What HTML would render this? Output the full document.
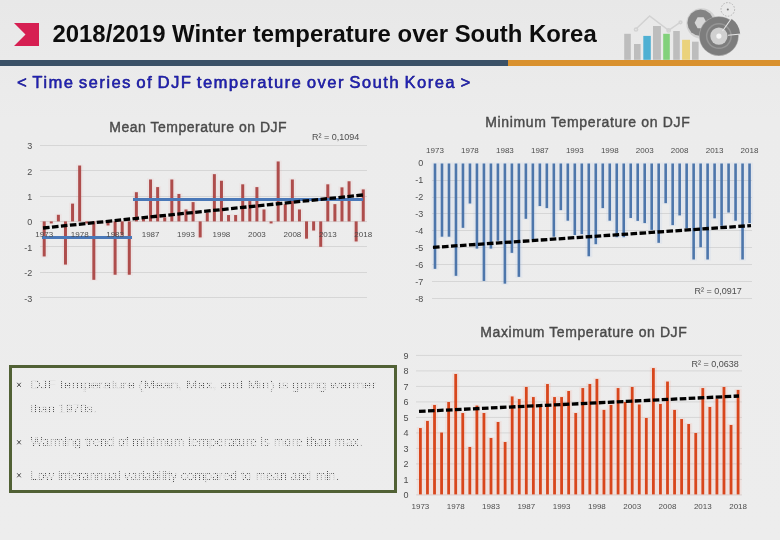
<!DOCTYPE html>
<html><head><meta charset="utf-8">
<style>
html,body{margin:0;padding:0;}
body{width:780px;height:540px;overflow:hidden;position:relative;background:#ececec;font-family:"Liberation Sans",sans-serif;}
.bg{position:absolute;left:0;top:0;width:780px;height:540px;background:linear-gradient(180deg,#e8e8e8 0px,#eaeaea 60px,#ececec 120px,#ededed 540px);}
.title{position:absolute;left:52.5px;top:19px;font-size:23.9px;font-weight:bold;color:#0d0d0d;white-space:nowrap;line-height:30px;}
.sub{position:absolute;left:17px;top:72px;font-size:16.5px;letter-spacing:1.5px;word-spacing:-1.6px;color:#2222bc;white-space:nowrap;line-height:20px;-webkit-text-stroke:0.4px #1c1c90;text-shadow:0.4px 0.4px 0 rgba(10,10,60,0.6);}
.bar1{position:absolute;left:0;top:60px;width:508px;height:6px;background:#3b5167;}
.bar2{position:absolute;left:508px;top:60px;width:272px;height:6px;background:#d9912e;}
.box{position:absolute;left:9px;top:365px;width:382px;height:122px;border:3px solid #516135;}
.bl{position:absolute;font-size:13.5px;color:#c4c4c4;white-space:nowrap;letter-spacing:0.2px;}
.bu{position:absolute;font-size:9px;color:#555;}
svg{position:absolute;left:0;top:0;}
</style></head><body>
<div class="bg"></div>
<svg width="780" height="540" viewBox="0 0 780 540" style="font-family:'Liberation Sans',sans-serif;will-change:transform">
<polygon points="14,23 39,23 39,46 14,46 25.5,34.5" fill="#d61f52"/>

<g>
 <g fill="none" stroke="#d2d2d2" stroke-width="1.5">
  <polyline points="636,29 649.6,16 668.6,30.4 680.2,22.3"/>
  <circle cx="636" cy="29.5" r="1.6"/>
  <circle cx="668.6" cy="30.4" r="1.6"/>
  <circle cx="680.5" cy="22.3" r="1.4"/>
 </g>
 <rect x="624.2" y="33.8" width="6.6" height="26" fill="#bdbdbd"/>
 <rect x="634" y="44" width="6.6" height="15.8" fill="#bdbdbd"/>
 <rect x="643.3" y="35.9" width="7.5" height="23.9" fill="#4fb0d3"/>
 <rect x="653" y="26" width="7.9" height="33.8" fill="#bdbdbd"/>
 <rect x="663.2" y="33.8" width="6.6" height="26" fill="#82d17b"/>
 <rect x="673.2" y="31" width="6.6" height="28.8" fill="#bdbdbd"/>
 <rect x="682.1" y="39.8" width="7.9" height="20" fill="#ead27c"/>
 <rect x="692" y="41.7" width="6.6" height="18.1" fill="#bdbdbd"/>
 <circle cx="701.5" cy="23.5" r="15.2" fill="#d2d2d2"/>
 <path d="M700.6,9.6 L705.6,10.6 L710,13.4 L712.8,17.8 L713.8,22.8 L712.8,27.8 L710,32.2 L705.6,35 L700.6,36 L695.6,35 L691.2,32.2 L688.4,27.8 L687.4,22.8 L688.4,17.8 L691.2,13.4 L695.6,10.6 Z" fill="#838383"/>
 <polygon points="697.6,17.3 703.6,17.3 706.6,22.8 703.6,28.3 697.6,28.3 694.6,22.8" fill="#d6d6d6"/>
 <circle cx="718.9" cy="36.1" r="19.8" fill="#a9a9a9"/>
 <circle cx="718.9" cy="36.1" r="19.2" fill="#7d7d7d"/>
 <path d="M731.2,18.5 A21.5,21.5 0 0 1 740.3,34.2 L728,35.2 A9.2,9.2 0 0 0 724.2,28.6 Z" fill="#7d7d7d"/>
 <circle cx="718.9" cy="36.1" r="13" fill="#969696"/>
 <circle cx="718.9" cy="36.1" r="11.5" fill="#7d7d7d"/>
 <circle cx="718.9" cy="36.1" r="8.6" fill="#d0d0d0"/>
 <circle cx="718.9" cy="36.1" r="2.6" fill="#f6f6f6"/>
 <g stroke="#e8e8e8" stroke-width="1.1"><line x1="722.5" y1="31" x2="732.5" y2="17"/><line x1="728" y1="35.2" x2="741" y2="34"/></g>
 <circle cx="727.8" cy="9.4" r="6.8" fill="none" stroke="#b4b4b4" stroke-width="1" stroke-dasharray="1.6 1.4"/>
 <circle cx="727.8" cy="9.4" r="1" fill="#777"/>
</g>

<g stroke="#d6d6d6" stroke-width="1"><line x1="40" y1="145.5" x2="367" y2="145.5"/><line x1="40" y1="170.5" x2="367" y2="170.5"/><line x1="40" y1="196.5" x2="367" y2="196.5"/><line x1="40" y1="221.5" x2="367" y2="221.5"/><line x1="40" y1="246.5" x2="367" y2="246.5"/><line x1="40" y1="272.5" x2="367" y2="272.5"/><line x1="40" y1="297.5" x2="367" y2="297.5"/></g><g fill="rgba(240,140,140,0.08)"><rect x="40.66" y="220.40" width="7.09" height="37.05"/><rect x="47.75" y="220.40" width="7.09" height="4.03"/><rect x="54.84" y="213.80" width="7.09" height="8.60"/><rect x="61.92" y="220.40" width="7.09" height="45.18"/><rect x="69.02" y="202.62" width="7.09" height="19.78"/><rect x="76.11" y="164.52" width="7.09" height="57.88"/><rect x="83.20" y="220.40" width="7.09" height="4.03"/><rect x="90.28" y="220.40" width="7.09" height="60.42"/><rect x="97.38" y="220.40" width="7.09" height="3.27"/><rect x="104.47" y="220.40" width="7.09" height="6.06"/><rect x="111.56" y="220.40" width="7.09" height="55.34"/><rect x="118.64" y="220.40" width="7.09" height="15.97"/><rect x="125.73" y="220.40" width="7.09" height="55.34"/><rect x="132.83" y="191.19" width="7.09" height="31.21"/><rect x="139.91" y="217.86" width="7.09" height="4.54"/><rect x="147.01" y="178.49" width="7.09" height="43.91"/><rect x="154.09" y="186.11" width="7.09" height="36.29"/><rect x="161.19" y="216.34" width="7.09" height="6.06"/><rect x="168.28" y="178.49" width="7.09" height="43.91"/><rect x="175.37" y="192.97" width="7.09" height="29.43"/><rect x="182.46" y="208.46" width="7.09" height="13.94"/><rect x="189.54" y="201.10" width="7.09" height="21.30"/><rect x="196.64" y="220.40" width="7.09" height="18.00"/><rect x="203.72" y="211.51" width="7.09" height="10.89"/><rect x="210.82" y="173.16" width="7.09" height="49.24"/><rect x="217.91" y="179.76" width="7.09" height="42.64"/><rect x="225.00" y="214.05" width="7.09" height="8.35"/><rect x="232.09" y="214.05" width="7.09" height="8.35"/><rect x="239.17" y="183.32" width="7.09" height="39.08"/><rect x="246.27" y="200.08" width="7.09" height="22.32"/><rect x="253.35" y="186.11" width="7.09" height="36.29"/><rect x="260.44" y="208.46" width="7.09" height="13.94"/><rect x="267.53" y="220.40" width="7.09" height="4.03"/><rect x="274.62" y="160.46" width="7.09" height="61.94"/><rect x="281.71" y="203.13" width="7.09" height="19.27"/><rect x="288.81" y="178.49" width="7.09" height="43.91"/><rect x="295.89" y="208.46" width="7.09" height="13.94"/><rect x="302.98" y="220.40" width="7.09" height="19.27"/><rect x="310.07" y="220.40" width="7.09" height="11.14"/><rect x="317.16" y="220.40" width="7.09" height="27.40"/><rect x="324.25" y="183.32" width="7.09" height="39.08"/><rect x="331.34" y="203.13" width="7.09" height="19.27"/><rect x="338.43" y="186.36" width="7.09" height="36.04"/><rect x="345.52" y="180.27" width="7.09" height="42.13"/><rect x="352.61" y="220.40" width="7.09" height="22.07"/><rect x="359.70" y="188.40" width="7.09" height="34.00"/></g><g fill="#ae4d4c"><rect x="42.70" y="221.40" width="3" height="35.05"/><rect x="49.79" y="221.40" width="3" height="2.03"/><rect x="56.88" y="214.80" width="3" height="6.60"/><rect x="63.97" y="221.40" width="3" height="43.18"/><rect x="71.06" y="203.62" width="3" height="17.78"/><rect x="78.15" y="165.52" width="3" height="55.88"/><rect x="85.24" y="221.40" width="3" height="2.03"/><rect x="92.33" y="221.40" width="3" height="58.42"/><rect x="99.42" y="221.40" width="3" height="1.27"/><rect x="106.51" y="221.40" width="3" height="4.06"/><rect x="113.60" y="221.40" width="3" height="53.34"/><rect x="120.69" y="221.40" width="3" height="13.97"/><rect x="127.78" y="221.40" width="3" height="53.34"/><rect x="134.87" y="192.19" width="3" height="29.21"/><rect x="141.96" y="218.86" width="3" height="2.54"/><rect x="149.05" y="179.49" width="3" height="41.91"/><rect x="156.14" y="187.11" width="3" height="34.29"/><rect x="163.23" y="217.34" width="3" height="4.06"/><rect x="170.32" y="179.49" width="3" height="41.91"/><rect x="177.41" y="193.97" width="3" height="27.43"/><rect x="184.50" y="209.46" width="3" height="11.94"/><rect x="191.59" y="202.10" width="3" height="19.30"/><rect x="198.68" y="221.40" width="3" height="16.00"/><rect x="205.77" y="212.51" width="3" height="8.89"/><rect x="212.86" y="174.16" width="3" height="47.24"/><rect x="219.95" y="180.76" width="3" height="40.64"/><rect x="227.04" y="215.05" width="3" height="6.35"/><rect x="234.13" y="215.05" width="3" height="6.35"/><rect x="241.22" y="184.32" width="3" height="37.08"/><rect x="248.31" y="201.08" width="3" height="20.32"/><rect x="255.40" y="187.11" width="3" height="34.29"/><rect x="262.49" y="209.46" width="3" height="11.94"/><rect x="269.58" y="221.40" width="3" height="2.03"/><rect x="276.67" y="161.46" width="3" height="59.94"/><rect x="283.76" y="204.13" width="3" height="17.27"/><rect x="290.85" y="179.49" width="3" height="41.91"/><rect x="297.94" y="209.46" width="3" height="11.94"/><rect x="305.03" y="221.40" width="3" height="17.27"/><rect x="312.12" y="221.40" width="3" height="9.14"/><rect x="319.21" y="221.40" width="3" height="25.40"/><rect x="326.30" y="184.32" width="3" height="37.08"/><rect x="333.39" y="204.13" width="3" height="17.27"/><rect x="340.48" y="187.36" width="3" height="34.04"/><rect x="347.57" y="181.27" width="3" height="40.13"/><rect x="354.66" y="221.40" width="3" height="20.07"/><rect x="361.75" y="189.40" width="3" height="32.00"/></g><g stroke="#4a78b8" stroke-width="3"><line x1="42" y1="237.5" x2="132" y2="237.5"/><line x1="133" y1="199.5" x2="363" y2="199.5"/></g><text x="32.2" y="149.2" font-size="9" fill="#4d4d4d" text-anchor="end" >3</text><text x="32.2" y="174.6" font-size="9" fill="#4d4d4d" text-anchor="end" >2</text><text x="32.2" y="200.0" font-size="9" fill="#4d4d4d" text-anchor="end" >1</text><text x="32.2" y="225.4" font-size="9" fill="#4d4d4d" text-anchor="end" >0</text><text x="32.2" y="250.8" font-size="9" fill="#4d4d4d" text-anchor="end" >-1</text><text x="32.2" y="276.2" font-size="9" fill="#4d4d4d" text-anchor="end" >-2</text><text x="32.2" y="301.6" font-size="9" fill="#4d4d4d" text-anchor="end" >-3</text><text x="44.2" y="237.0" font-size="8" fill="#4d4d4d" text-anchor="middle" >1973</text><text x="79.7" y="237.0" font-size="8" fill="#4d4d4d" text-anchor="middle" >1978</text><text x="115.1" y="237.0" font-size="8" fill="#4d4d4d" text-anchor="middle" >1983</text><text x="150.6" y="237.0" font-size="8" fill="#4d4d4d" text-anchor="middle" >1987</text><text x="186.0" y="237.0" font-size="8" fill="#4d4d4d" text-anchor="middle" >1993</text><text x="221.4" y="237.0" font-size="8" fill="#4d4d4d" text-anchor="middle" >1998</text><text x="256.9" y="237.0" font-size="8" fill="#4d4d4d" text-anchor="middle" >2003</text><text x="292.4" y="237.0" font-size="8" fill="#4d4d4d" text-anchor="middle" >2008</text><text x="327.8" y="237.0" font-size="8" fill="#4d4d4d" text-anchor="middle" >2013</text><text x="363.2" y="237.0" font-size="8" fill="#4d4d4d" text-anchor="middle" >2018</text><line x1="43" y1="228" x2="363" y2="195" stroke="#000" stroke-width="3.3" stroke-dasharray="6.6 2.4"/><text x="312.0" y="139.5" font-size="9" fill="#4d4d4d" text-anchor="start" >R² = 0,1094</text><text x="198.2" y="131.8" font-size="14" fill="#4a4a4a" text-anchor="middle" letter-spacing="0.5" stroke="#4a4a4a" stroke-width="0.4">Mean Temperature on DJF</text><g stroke="#d6d6d6" stroke-width="1"><line x1="432" y1="180.5" x2="752" y2="180.5"/><line x1="432" y1="197.5" x2="752" y2="197.5"/><line x1="432" y1="213.5" x2="752" y2="213.5"/><line x1="432" y1="230.5" x2="752" y2="230.5"/><line x1="432" y1="247.5" x2="752" y2="247.5"/><line x1="432" y1="264.5" x2="752" y2="264.5"/><line x1="432" y1="281.5" x2="752" y2="281.5"/><line x1="432" y1="298.5" x2="752" y2="298.5"/></g><g fill="rgba(140,180,240,0.10)"><rect x="431.50" y="162.50" width="6.99" height="107.35"/><rect x="438.50" y="162.50" width="6.99" height="75.19"/><rect x="445.49" y="162.50" width="6.99" height="75.19"/><rect x="452.48" y="162.50" width="6.99" height="114.33"/><rect x="459.46" y="162.50" width="6.99" height="66.34"/><rect x="466.45" y="162.50" width="6.99" height="42.00"/><rect x="473.44" y="162.50" width="6.99" height="87.10"/><rect x="480.44" y="162.50" width="6.99" height="119.44"/><rect x="487.43" y="162.50" width="6.99" height="87.10"/><rect x="494.42" y="162.50" width="6.99" height="79.27"/><rect x="501.40" y="162.50" width="6.99" height="122.16"/><rect x="508.39" y="162.50" width="6.99" height="91.36"/><rect x="515.38" y="162.50" width="6.99" height="115.35"/><rect x="522.38" y="162.50" width="6.99" height="57.31"/><rect x="529.37" y="162.50" width="6.99" height="77.74"/><rect x="536.36" y="162.50" width="6.99" height="44.55"/><rect x="543.35" y="162.50" width="6.99" height="46.59"/><rect x="550.34" y="162.50" width="6.99" height="75.19"/><rect x="557.33" y="162.50" width="6.99" height="48.63"/><rect x="564.31" y="162.50" width="6.99" height="59.19"/><rect x="571.30" y="162.50" width="6.99" height="73.48"/><rect x="578.29" y="162.50" width="6.99" height="72.63"/><rect x="585.28" y="162.50" width="6.99" height="94.76"/><rect x="592.27" y="162.50" width="6.99" height="82.67"/><rect x="599.26" y="162.50" width="6.99" height="46.59"/><rect x="606.25" y="162.50" width="6.99" height="59.19"/><rect x="613.25" y="162.50" width="6.99" height="75.70"/><rect x="620.24" y="162.50" width="6.99" height="75.70"/><rect x="627.23" y="162.50" width="6.99" height="56.46"/><rect x="634.22" y="162.50" width="6.99" height="59.36"/><rect x="641.21" y="162.50" width="6.99" height="61.57"/><rect x="648.20" y="162.50" width="6.99" height="68.38"/><rect x="655.19" y="162.50" width="6.99" height="81.31"/><rect x="662.18" y="162.50" width="6.99" height="41.66"/><rect x="669.16" y="162.50" width="6.99" height="63.61"/><rect x="676.15" y="162.50" width="6.99" height="53.91"/><rect x="683.14" y="162.50" width="6.99" height="66.68"/><rect x="690.13" y="162.50" width="6.99" height="97.99"/><rect x="697.12" y="162.50" width="6.99" height="85.74"/><rect x="704.12" y="162.50" width="6.99" height="97.99"/><rect x="711.11" y="162.50" width="6.99" height="56.80"/><rect x="718.10" y="162.50" width="6.99" height="64.29"/><rect x="725.08" y="162.50" width="6.99" height="51.02"/><rect x="732.07" y="162.50" width="6.99" height="59.19"/><rect x="739.06" y="162.50" width="6.99" height="97.99"/><rect x="746.05" y="162.50" width="6.99" height="61.57"/></g><g fill="#4d76ab"><rect x="433.70" y="163.50" width="2.6" height="105.35"/><rect x="440.69" y="163.50" width="2.6" height="73.19"/><rect x="447.68" y="163.50" width="2.6" height="73.19"/><rect x="454.67" y="163.50" width="2.6" height="112.33"/><rect x="461.66" y="163.50" width="2.6" height="64.34"/><rect x="468.65" y="163.50" width="2.6" height="40.00"/><rect x="475.64" y="163.50" width="2.6" height="85.10"/><rect x="482.63" y="163.50" width="2.6" height="117.44"/><rect x="489.62" y="163.50" width="2.6" height="85.10"/><rect x="496.61" y="163.50" width="2.6" height="77.27"/><rect x="503.60" y="163.50" width="2.6" height="120.16"/><rect x="510.59" y="163.50" width="2.6" height="89.36"/><rect x="517.58" y="163.50" width="2.6" height="113.35"/><rect x="524.57" y="163.50" width="2.6" height="55.31"/><rect x="531.56" y="163.50" width="2.6" height="75.74"/><rect x="538.55" y="163.50" width="2.6" height="42.55"/><rect x="545.54" y="163.50" width="2.6" height="44.59"/><rect x="552.53" y="163.50" width="2.6" height="73.19"/><rect x="559.52" y="163.50" width="2.6" height="46.63"/><rect x="566.51" y="163.50" width="2.6" height="57.19"/><rect x="573.50" y="163.50" width="2.6" height="71.48"/><rect x="580.49" y="163.50" width="2.6" height="70.63"/><rect x="587.48" y="163.50" width="2.6" height="92.76"/><rect x="594.47" y="163.50" width="2.6" height="80.67"/><rect x="601.46" y="163.50" width="2.6" height="44.59"/><rect x="608.45" y="163.50" width="2.6" height="57.19"/><rect x="615.44" y="163.50" width="2.6" height="73.70"/><rect x="622.43" y="163.50" width="2.6" height="73.70"/><rect x="629.42" y="163.50" width="2.6" height="54.46"/><rect x="636.41" y="163.50" width="2.6" height="57.36"/><rect x="643.40" y="163.50" width="2.6" height="59.57"/><rect x="650.39" y="163.50" width="2.6" height="66.38"/><rect x="657.38" y="163.50" width="2.6" height="79.31"/><rect x="664.37" y="163.50" width="2.6" height="39.66"/><rect x="671.36" y="163.50" width="2.6" height="61.61"/><rect x="678.35" y="163.50" width="2.6" height="51.91"/><rect x="685.34" y="163.50" width="2.6" height="64.68"/><rect x="692.33" y="163.50" width="2.6" height="95.99"/><rect x="699.32" y="163.50" width="2.6" height="83.74"/><rect x="706.31" y="163.50" width="2.6" height="95.99"/><rect x="713.30" y="163.50" width="2.6" height="54.80"/><rect x="720.29" y="163.50" width="2.6" height="62.29"/><rect x="727.28" y="163.50" width="2.6" height="49.02"/><rect x="734.27" y="163.50" width="2.6" height="57.19"/><rect x="741.26" y="163.50" width="2.6" height="95.99"/><rect x="748.25" y="163.50" width="2.6" height="59.57"/></g><text x="423.2" y="166.4" font-size="9" fill="#4d4d4d" text-anchor="end" >0</text><text x="423.2" y="183.3" font-size="9" fill="#4d4d4d" text-anchor="end" >-1</text><text x="423.2" y="200.2" font-size="9" fill="#4d4d4d" text-anchor="end" >-2</text><text x="423.2" y="217.2" font-size="9" fill="#4d4d4d" text-anchor="end" >-3</text><text x="423.2" y="234.1" font-size="9" fill="#4d4d4d" text-anchor="end" >-4</text><text x="423.2" y="251.0" font-size="9" fill="#4d4d4d" text-anchor="end" >-5</text><text x="423.2" y="267.9" font-size="9" fill="#4d4d4d" text-anchor="end" >-6</text><text x="423.2" y="284.8" font-size="9" fill="#4d4d4d" text-anchor="end" >-7</text><text x="423.2" y="301.8" font-size="9" fill="#4d4d4d" text-anchor="end" >-8</text><text x="435.0" y="153.4" font-size="8" fill="#4d4d4d" text-anchor="middle" >1973</text><text x="469.9" y="153.4" font-size="8" fill="#4d4d4d" text-anchor="middle" >1978</text><text x="504.9" y="153.4" font-size="8" fill="#4d4d4d" text-anchor="middle" >1983</text><text x="539.9" y="153.4" font-size="8" fill="#4d4d4d" text-anchor="middle" >1987</text><text x="574.8" y="153.4" font-size="8" fill="#4d4d4d" text-anchor="middle" >1993</text><text x="609.8" y="153.4" font-size="8" fill="#4d4d4d" text-anchor="middle" >1998</text><text x="644.7" y="153.4" font-size="8" fill="#4d4d4d" text-anchor="middle" >2003</text><text x="679.6" y="153.4" font-size="8" fill="#4d4d4d" text-anchor="middle" >2008</text><text x="714.6" y="153.4" font-size="8" fill="#4d4d4d" text-anchor="middle" >2013</text><text x="749.5" y="153.4" font-size="8" fill="#4d4d4d" text-anchor="middle" >2018</text><line x1="433" y1="247.4" x2="751" y2="225.6" stroke="#000" stroke-width="3.3" stroke-dasharray="6.6 2.4"/><text x="694.6" y="294.0" font-size="9" fill="#4d4d4d" text-anchor="start" >R² = 0,0917</text><text x="587.8" y="127.0" font-size="14" fill="#4a4a4a" text-anchor="middle" letter-spacing="0.66" stroke="#4a4a4a" stroke-width="0.4">Minimum Temperature on DJF</text><g stroke="#d6d6d6" stroke-width="1"><line x1="416" y1="494.9" x2="742" y2="494.9"/><line x1="416" y1="479.4" x2="742" y2="479.4"/><line x1="416" y1="463.9" x2="742" y2="463.9"/><line x1="416" y1="448.4" x2="742" y2="448.4"/><line x1="416" y1="432.9" x2="742" y2="432.9"/><line x1="416" y1="417.4" x2="742" y2="417.4"/><line x1="416" y1="401.9" x2="742" y2="401.9"/><line x1="416" y1="386.4" x2="742" y2="386.4"/><line x1="416" y1="370.9" x2="742" y2="370.9"/><line x1="416" y1="355.4" x2="742" y2="355.4"/></g><g fill="rgba(255,150,120,0.13)"><rect x="416.87" y="427.06" width="7.06" height="68.34"/><rect x="423.93" y="419.93" width="7.06" height="75.47"/><rect x="430.99" y="403.96" width="7.06" height="91.44"/><rect x="438.05" y="431.55" width="7.06" height="63.85"/><rect x="445.11" y="401.02" width="7.06" height="94.38"/><rect x="452.17" y="372.96" width="7.06" height="122.44"/><rect x="459.23" y="412.02" width="7.06" height="83.38"/><rect x="466.29" y="445.97" width="7.06" height="49.43"/><rect x="473.35" y="404.58" width="7.06" height="90.81"/><rect x="480.41" y="412.02" width="7.06" height="83.38"/><rect x="487.47" y="436.98" width="7.06" height="58.42"/><rect x="494.53" y="421.01" width="7.06" height="74.38"/><rect x="501.59" y="441.01" width="7.06" height="54.39"/><rect x="508.65" y="395.44" width="7.06" height="99.96"/><rect x="515.71" y="398.07" width="7.06" height="97.32"/><rect x="522.77" y="385.99" width="7.06" height="109.41"/><rect x="529.83" y="396.06" width="7.06" height="99.34"/><rect x="536.89" y="405.98" width="7.06" height="89.42"/><rect x="543.95" y="383.04" width="7.06" height="112.36"/><rect x="551.01" y="396.06" width="7.06" height="99.34"/><rect x="558.07" y="396.06" width="7.06" height="99.34"/><rect x="565.13" y="390.01" width="7.06" height="105.38"/><rect x="572.19" y="412.02" width="7.06" height="83.38"/><rect x="579.25" y="387.07" width="7.06" height="108.33"/><rect x="586.31" y="383.04" width="7.06" height="112.36"/><rect x="593.37" y="377.92" width="7.06" height="117.48"/><rect x="600.43" y="408.92" width="7.06" height="86.48"/><rect x="607.49" y="403.96" width="7.06" height="91.44"/><rect x="614.55" y="387.07" width="7.06" height="108.33"/><rect x="621.61" y="401.02" width="7.06" height="94.38"/><rect x="628.67" y="385.99" width="7.06" height="109.41"/><rect x="635.73" y="403.50" width="7.06" height="91.90"/><rect x="642.79" y="416.99" width="7.06" height="78.41"/><rect x="649.85" y="367.07" width="7.06" height="128.32"/><rect x="656.91" y="403.03" width="7.06" height="92.37"/><rect x="663.97" y="380.56" width="7.06" height="114.84"/><rect x="671.03" y="408.92" width="7.06" height="86.48"/><rect x="678.09" y="418.07" width="7.06" height="77.33"/><rect x="685.15" y="423.03" width="7.06" height="72.37"/><rect x="692.21" y="432.02" width="7.06" height="63.38"/><rect x="699.27" y="387.07" width="7.06" height="108.33"/><rect x="706.33" y="405.98" width="7.06" height="89.42"/><rect x="713.39" y="397.61" width="7.06" height="97.79"/><rect x="720.45" y="385.99" width="7.06" height="109.41"/><rect x="727.51" y="423.96" width="7.06" height="71.44"/><rect x="734.57" y="388.93" width="7.06" height="106.47"/></g><g fill="#d8461c"><rect x="419.00" y="428.06" width="2.8" height="66.34"/><rect x="426.06" y="420.93" width="2.8" height="73.47"/><rect x="433.12" y="404.96" width="2.8" height="89.44"/><rect x="440.18" y="432.55" width="2.8" height="61.85"/><rect x="447.24" y="402.02" width="2.8" height="92.38"/><rect x="454.30" y="373.96" width="2.8" height="120.44"/><rect x="461.36" y="413.02" width="2.8" height="81.38"/><rect x="468.42" y="446.97" width="2.8" height="47.43"/><rect x="475.48" y="405.58" width="2.8" height="88.81"/><rect x="482.54" y="413.02" width="2.8" height="81.38"/><rect x="489.60" y="437.98" width="2.8" height="56.42"/><rect x="496.66" y="422.01" width="2.8" height="72.38"/><rect x="503.72" y="442.01" width="2.8" height="52.39"/><rect x="510.78" y="396.44" width="2.8" height="97.96"/><rect x="517.84" y="399.07" width="2.8" height="95.32"/><rect x="524.90" y="386.99" width="2.8" height="107.41"/><rect x="531.96" y="397.06" width="2.8" height="97.34"/><rect x="539.02" y="406.98" width="2.8" height="87.42"/><rect x="546.08" y="384.04" width="2.8" height="110.36"/><rect x="553.14" y="397.06" width="2.8" height="97.34"/><rect x="560.20" y="397.06" width="2.8" height="97.34"/><rect x="567.26" y="391.01" width="2.8" height="103.38"/><rect x="574.32" y="413.02" width="2.8" height="81.38"/><rect x="581.38" y="388.07" width="2.8" height="106.33"/><rect x="588.44" y="384.04" width="2.8" height="110.36"/><rect x="595.50" y="378.92" width="2.8" height="115.48"/><rect x="602.56" y="409.92" width="2.8" height="84.48"/><rect x="609.62" y="404.96" width="2.8" height="89.44"/><rect x="616.68" y="388.07" width="2.8" height="106.33"/><rect x="623.74" y="402.02" width="2.8" height="92.38"/><rect x="630.80" y="386.99" width="2.8" height="107.41"/><rect x="637.86" y="404.50" width="2.8" height="89.90"/><rect x="644.92" y="417.99" width="2.8" height="76.41"/><rect x="651.98" y="368.07" width="2.8" height="126.32"/><rect x="659.04" y="404.03" width="2.8" height="90.37"/><rect x="666.10" y="381.56" width="2.8" height="112.84"/><rect x="673.16" y="409.92" width="2.8" height="84.48"/><rect x="680.22" y="419.07" width="2.8" height="75.33"/><rect x="687.28" y="424.03" width="2.8" height="70.37"/><rect x="694.34" y="433.02" width="2.8" height="61.38"/><rect x="701.40" y="388.07" width="2.8" height="106.33"/><rect x="708.46" y="406.98" width="2.8" height="87.42"/><rect x="715.52" y="398.61" width="2.8" height="95.79"/><rect x="722.58" y="386.99" width="2.8" height="107.41"/><rect x="729.64" y="424.96" width="2.8" height="69.44"/><rect x="736.70" y="389.93" width="2.8" height="104.47"/></g><text x="408.4" y="498.4" font-size="9" fill="#4d4d4d" text-anchor="end" >0</text><text x="408.4" y="482.9" font-size="9" fill="#4d4d4d" text-anchor="end" >1</text><text x="408.4" y="467.4" font-size="9" fill="#4d4d4d" text-anchor="end" >2</text><text x="408.4" y="451.9" font-size="9" fill="#4d4d4d" text-anchor="end" >3</text><text x="408.4" y="436.4" font-size="9" fill="#4d4d4d" text-anchor="end" >4</text><text x="408.4" y="420.9" font-size="9" fill="#4d4d4d" text-anchor="end" >5</text><text x="408.4" y="405.4" font-size="9" fill="#4d4d4d" text-anchor="end" >6</text><text x="408.4" y="389.9" font-size="9" fill="#4d4d4d" text-anchor="end" >7</text><text x="408.4" y="374.4" font-size="9" fill="#4d4d4d" text-anchor="end" >8</text><text x="408.4" y="358.9" font-size="9" fill="#4d4d4d" text-anchor="end" >9</text><text x="420.4" y="509.0" font-size="8" fill="#4d4d4d" text-anchor="middle" >1973</text><text x="455.7" y="509.0" font-size="8" fill="#4d4d4d" text-anchor="middle" >1978</text><text x="491.0" y="509.0" font-size="8" fill="#4d4d4d" text-anchor="middle" >1983</text><text x="526.3" y="509.0" font-size="8" fill="#4d4d4d" text-anchor="middle" >1987</text><text x="561.6" y="509.0" font-size="8" fill="#4d4d4d" text-anchor="middle" >1993</text><text x="596.9" y="509.0" font-size="8" fill="#4d4d4d" text-anchor="middle" >1998</text><text x="632.2" y="509.0" font-size="8" fill="#4d4d4d" text-anchor="middle" >2003</text><text x="667.5" y="509.0" font-size="8" fill="#4d4d4d" text-anchor="middle" >2008</text><text x="702.8" y="509.0" font-size="8" fill="#4d4d4d" text-anchor="middle" >2013</text><text x="738.1" y="509.0" font-size="8" fill="#4d4d4d" text-anchor="middle" >2018</text><line x1="419" y1="411.4" x2="739" y2="396" stroke="#000" stroke-width="3.3" stroke-dasharray="6.6 2.4"/><text x="691.6" y="367.0" font-size="9" fill="#4d4d4d" text-anchor="start" >R² = 0,0638</text><text x="583.8" y="337.0" font-size="14" fill="#4a4a4a" text-anchor="middle" letter-spacing="0.58" stroke="#4a4a4a" stroke-width="0.4">Maximum Temperature on DJF</text>
</svg>
<div class="title">2018/2019 Winter temperature over South Korea</div>
<div class="bar1"></div><div class="bar2"></div>
<div class="sub">&lt; Time series of DJF temperature over South Korea &gt;</div>
<div class="box"></div>
<svg width="780" height="540" style="position:absolute;left:0;top:0;font-family:'Liberation Sans',sans-serif;will-change:transform">
<defs><pattern id="dots" width="2" height="2" patternUnits="userSpaceOnUse"><rect width="2" height="2" fill="#e4e4e4"/><rect x="1" y="1" width="1" height="1" fill="#4a4a4a"/></pattern></defs>
<g fill="url(#dots)" font-size="13.5">
<text x="30.5" y="389" textLength="346" lengthAdjust="spacingAndGlyphs">DJF temperature (Mean, Max, and Min) is going warmer</text>
<text x="30.5" y="413" textLength="66" lengthAdjust="spacingAndGlyphs">than 1970s.</text>
<text x="30.5" y="445.8" textLength="332" lengthAdjust="spacingAndGlyphs">Warming trend of minimum temperature is more than max.</text>
<text x="30.5" y="479.5" textLength="309" lengthAdjust="spacingAndGlyphs">Low interannual variability compared to mean and min.</text>
</g>
<g stroke="#333" stroke-width="0.9">
<path d="M17.2,382.8 L20.8,386.8 M20.8,382.8 L17.2,386.8"/>
<path d="M17.2,440.3 L20.8,444.3 M20.8,440.3 L17.2,444.3"/>
<path d="M17.2,473.3 L20.8,477.3 M20.8,473.3 L17.2,477.3"/>
</g>
</svg>
</body></html>
